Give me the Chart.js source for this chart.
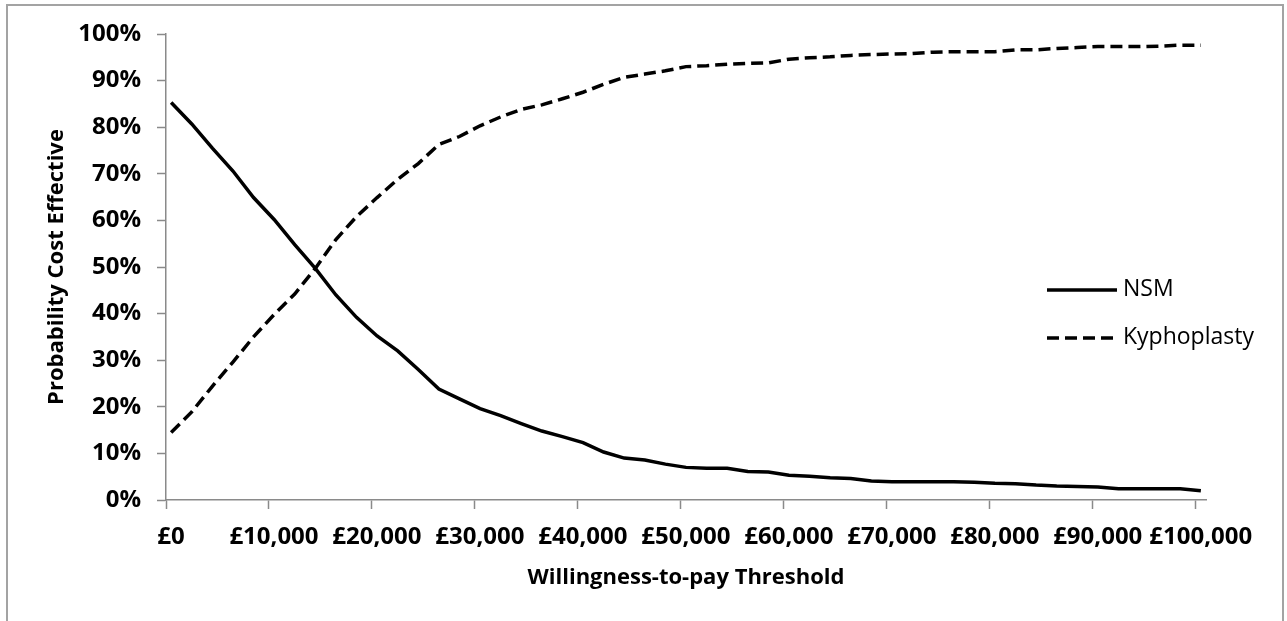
<!DOCTYPE html>
<html>
<head>
<meta charset="utf-8">
<script src="https://cdn.jsdelivr.net/npm/chart.js@4.4.1/dist/chart.umd.min.js"></script>
<style>
  html, body { margin: 0; padding: 0; background: #fff; }
  #wrap { position: relative; width: 1287px; height: 621px; overflow: hidden; background: #fff; }
  #frame { position: absolute; left: 6px; top: 4px; width: 1278px; height: 640px; border: 2px solid #a3a3a3; box-sizing: border-box; }
  #ceac { position: absolute; left: 0; top: 0; }
</style>
</head>
<body>
<div id="wrap">
  <div id="frame"></div>
  <canvas id="ceac" width="1287" height="621"></canvas>
</div>
<script>
// willingness-to-pay thresholds (GBP), every 2,000
const thresholds = [
  0, 2000, 4000, 6000, 8000, 10000, 12000, 14000, 16000, 18000,
  20000, 22000, 24000, 26000, 28000, 30000, 32000, 34000, 36000, 38000,
  40000, 42000, 44000, 46000, 48000, 50000, 52000, 54000, 56000, 58000,
  60000, 62000, 64000, 66000, 68000, 70000, 72000, 74000, 76000, 78000,
  80000, 82000, 84000, 86000, 88000, 90000, 92000, 94000, 96000, 98000, 100000
];

// probability cost effective (%)
const nsmProb = [
  85.3, 80.7, 75.5, 70.6, 64.9, 60.2, 54.8, 49.7, 44.0, 39.2,
  35.2, 32.0, 28.0, 23.8, 21.7, 19.6, 18.1, 16.4, 14.8, 13.6,
  12.3, 10.3, 9.0, 8.6, 7.7, 7.0, 6.8, 6.8, 6.1, 6.0,
  5.3, 5.1, 4.8, 4.6, 4.1, 3.9, 3.9, 3.9, 3.9, 3.8,
  3.6, 3.5, 3.2, 3.0, 2.9, 2.8, 2.4, 2.4, 2.4, 2.4, 2.0
];
const kyphoProb = [
  14.5, 18.9, 24.4, 29.6, 35.0, 39.8, 44.2, 49.7, 55.9, 60.8,
  64.9, 68.8, 72.2, 76.3, 78.0, 80.3, 82.2, 83.8, 84.8, 86.1,
  87.5, 89.2, 90.7, 91.4, 92.1, 93.0, 93.2, 93.5, 93.7, 93.8,
  94.6, 94.9, 95.1, 95.4, 95.6, 95.7, 95.8, 96.1, 96.2, 96.2,
  96.2, 96.6, 96.6, 96.9, 97.1, 97.3, 97.3, 97.3, 97.4, 97.6, 97.6
];

const xTickValues = [0, 10000, 20000, 30000, 40000, 50000, 60000, 70000, 80000, 90000, 100000];
const xTickLabels = ['£0', '£10,000', '£20,000', '£30,000', '£40,000', '£50,000', '£60,000', '£70,000', '£80,000', '£90,000', '£100,000'];

// excel category axis: tick marks sit half a step (1000) before each label
const HALF_STEP = 500;
const FONT = "'Open Sans', 'Liberation Sans', sans-serif";
const AXIS_GREY = '#8a8a8a';

const toPoints = (ys) => thresholds.map((x, i) => ({ x: x, y: ys[i] }));

// legend drawn inside the plot, to the right, like the excel one
const sideLegend = {
  id: 'sideLegend',
  afterDatasetsDraw(chart) {
    const ctx = chart.ctx;
    const area = chart.chartArea;
    const x0 = area.right - 159;
    chart.data.datasets.forEach((ds, i) => {
      const y = area.top + 256 + i * 48;
      ctx.save();
      ctx.strokeStyle = ds.borderColor;
      ctx.lineWidth = ds.borderWidth;
      ctx.setLineDash(ds.borderDash || []);
      ctx.beginPath();
      ctx.moveTo(x0, y);
      ctx.lineTo(x0 + 70, y);
      ctx.stroke();
      ctx.setLineDash([]);
      ctx.fillStyle = '#000';
      ctx.font = "23px " + FONT;
      ctx.textBaseline = 'middle';
      ctx.fillText(ds.label, x0 + 76, y - 1);
      ctx.restore();
    });
  }
};

const ctx = document.getElementById('ceac').getContext('2d');
new Chart(ctx, {
  type: 'line',
  data: {
    datasets: [
      {
        label: 'NSM',
        data: toPoints(nsmProb),
        borderColor: '#000',
        borderWidth: 3.5,
        pointRadius: 0,
        tension: 0,
        fill: false,
      },
      {
        label: 'Kyphoplasty',
        data: toPoints(kyphoProb),
        borderColor: '#000',
        borderWidth: 3.5,
        borderDash: [12, 6],
        pointRadius: 0,
        tension: 0,
        fill: false,
      },
    ],
  },
  options: {
    responsive: false,
    animation: false,
    devicePixelRatio: 1,
    layout: { padding: { top: 34, right: 81, bottom: 0, left: 0 } },
    plugins: {
      legend: { display: false },
      tooltip: { enabled: false },
    },
    scales: {
      x: {
        type: 'linear',
        min: xTickValues[0] - HALF_STEP,
        max: xTickValues[xTickValues.length - 1] + HALF_STEP,
        afterBuildTicks: (scale) => {
          scale.ticks = xTickValues.map((v) => ({ value: v - HALF_STEP }));
        },
        afterFit: (scale) => { scale.height = 121; },
        ticks: {
          autoSkip: false,
          maxRotation: 0,
          labelOffset: 5,
          padding: 14,
          color: '#000',
          font: { family: FONT, size: 24, weight: 'bold' },
          callback: (v, i) => xTickLabels[i],
        },
        grid: {
          drawOnChartArea: false,
          tickLength: 9,
          tickColor: AXIS_GREY,
          tickWidth: 1.5,
        },
        border: { color: AXIS_GREY, width: 1.5 },
        title: {
          display: true,
          text: 'Willingness-to-pay Threshold',
          color: '#000',
          font: { family: FONT, size: 22, weight: 'bold' },
          padding: { top: 0, bottom: 30 },
        },
      },
      y: {
        min: 0,
        max: 100,
        afterFit: (scale) => { scale.width = 166; },
        ticks: {
          stepSize: 10,
          padding: 16,
          color: '#000',
          font: { family: FONT, size: 24, weight: 'bold' },
          callback: (v) => v + '%',
        },
        grid: {
          drawOnChartArea: false,
          tickLength: 9,
          tickColor: AXIS_GREY,
          tickWidth: 1.5,
        },
        border: { color: AXIS_GREY, width: 1.5 },
        title: {
          display: true,
          text: 'Probability Cost Effective',
          color: '#000',
          font: { family: FONT, size: 22, weight: 'bold' },
          padding: { top: 44, bottom: 0 },
        },
      },
    },
  },
  plugins: [sideLegend],
});
</script>
</body>
</html>
